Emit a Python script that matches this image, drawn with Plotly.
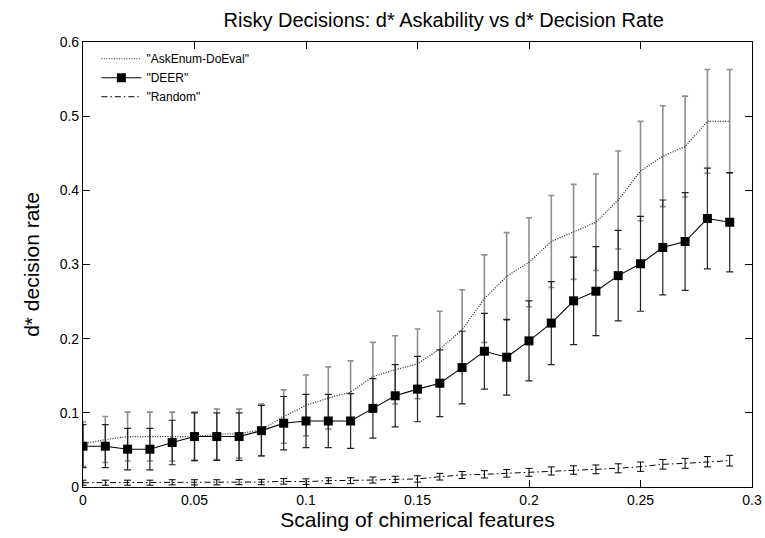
import plotly.graph_objects as go

x = [round(i * 0.01, 2) for i in range(30)]

askenum = [0.058, 0.064, 0.068, 0.068, 0.068, 0.068, 0.071, 0.072, 0.077, 0.095,
           0.110, 0.120, 0.128, 0.149, 0.158, 0.166, 0.186, 0.212, 0.254, 0.284,
           0.303, 0.331, 0.344, 0.357, 0.387, 0.426, 0.446, 0.459, 0.493, 0.493]
askenum_err = [0.030, 0.031, 0.033, 0.033, 0.033, 0.033, 0.034, 0.033, 0.035, 0.036,
               0.041, 0.042, 0.042, 0.046, 0.046, 0.047, 0.051, 0.054, 0.059, 0.059,
               0.060, 0.062, 0.064, 0.065, 0.066, 0.067, 0.068, 0.068, 0.070, 0.070]

deer = [0.055, 0.055, 0.051, 0.051, 0.060, 0.068, 0.068, 0.068, 0.076, 0.086,
        0.089, 0.089, 0.089, 0.106, 0.123, 0.132, 0.140, 0.161, 0.183, 0.175,
        0.197, 0.221, 0.251, 0.264, 0.285, 0.301, 0.323, 0.331, 0.362, 0.357]
deer_err = [0.029, 0.029, 0.028, 0.028, 0.030, 0.032, 0.032, 0.032, 0.034, 0.036,
            0.036, 0.036, 0.037, 0.040, 0.042, 0.044, 0.045, 0.049, 0.051, 0.051,
            0.054, 0.056, 0.059, 0.060, 0.061, 0.064, 0.064, 0.066, 0.068, 0.067]

random_ = [0.0058, 0.0058, 0.0058, 0.0058, 0.0063, 0.0063, 0.0063, 0.0067, 0.0067, 0.0076,
           0.0072, 0.0085, 0.0085, 0.0094, 0.0103, 0.0108, 0.0139, 0.0162, 0.0171, 0.0184,
           0.0198, 0.0216, 0.0229, 0.0238, 0.0252, 0.0274, 0.0306, 0.0319, 0.0341, 0.0355]
random_err = [0.0034, 0.0034, 0.0034, 0.0034, 0.0035, 0.0035, 0.0035, 0.0036, 0.0036, 0.0037,
              0.0038, 0.0039, 0.0040, 0.0041, 0.0042, 0.0043, 0.0045, 0.0047, 0.0049, 0.0051,
              0.0053, 0.0055, 0.0057, 0.0059, 0.0061, 0.0063, 0.0065, 0.0067, 0.0069, 0.0072]

xticks = [0, 0.05, 0.1, 0.15, 0.2, 0.25, 0.3]
xticklabels = ["0", "0.05", "0.1", "0.15", "0.2", "0.25", "0.3"]
yticks = [0, 0.1, 0.2, 0.3, 0.4, 0.5, 0.6]
yticklabels = ["0", "0.1", "0.2", "0.3", "0.4", "0.5", "0.6"]

FONT = "Liberation Sans, Arial, sans-serif"

fig = go.Figure()
fig.add_trace(go.Scatter(
    x=x, y=askenum, name='"AskEnum-DoEval"', mode="lines",
    line=dict(color="#222222", width=1.2, dash="1px,1.5px"),
    error_y=dict(type="data", array=askenum_err, visible=True,
                 color="#8f8f8f", thickness=1.6, width=3),
))
fig.add_trace(go.Scatter(
    x=x, y=deer, name='"DEER"', mode="lines+markers",
    line=dict(color="#000000", width=1.1),
    marker=dict(symbol="square", size=9, color="#000000"),
    error_y=dict(type="data", array=deer_err, visible=True,
                 color="#222222", thickness=1.2, width=3.5),
))
fig.add_trace(go.Scatter(
    x=x, y=random_, name='"Random"', mode="lines",
    line=dict(color="#000000", width=1, dash="6px,3px,1.5px,3px"),
    error_y=dict(type="data", array=random_err, visible=True,
                 color="#000000", thickness=1, width=3.5),
))

axis_common = dict(
    showgrid=False, zeroline=False, showline=True, linecolor="#000000", linewidth=1.2,
    mirror="allticks", ticks="inside", ticklen=7, tickcolor="#000000", tickwidth=1,
    tickfont=dict(family=FONT, size=14, color="#000000"), automargin=False,
)

fig.update_layout(
    width=765, height=538,
    margin=dict(l=83, r=13, t=42, b=51),
    paper_bgcolor="white", plot_bgcolor="white",
    title=dict(text="Risky Decisions: d* Askability vs d* Decision Rate",
               x=0.58, xanchor="center", y=0.962, yanchor="middle",
               font=dict(family=FONT, size=20, color="#000000")),
    xaxis=dict(range=[0, 0.3], tickvals=xticks, ticktext=xticklabels,
               title=dict(text="Scaling of chimerical features", standoff=2,
                          font=dict(family=FONT, size=21, color="#000000")),
               **axis_common),
    yaxis=dict(range=[0, 0.6], tickvals=yticks, ticktext=yticklabels,
               title=dict(text="d* decision rate", standoff=14,
                          font=dict(family=FONT, size=21, color="#000000")),
               **axis_common),
    legend=dict(x=0.02, y=0.995, xanchor="left", yanchor="top",
                bgcolor="rgba(0,0,0,0)", borderwidth=0,
                font=dict(family=FONT, size=12, color="#000000"),
                tracegroupgap=0, itemwidth=40),
    showlegend=True,
)

fig.write_html("out.html")
